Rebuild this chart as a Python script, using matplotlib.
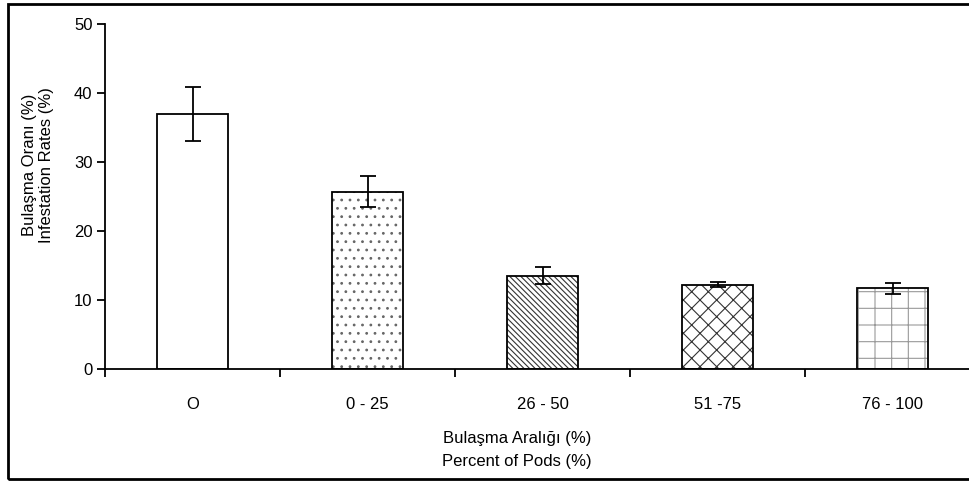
import matplotlib.pyplot as plt
from matplotlib.patches import Rectangle

plt.rcParams['font.family'] = ['Liberation Sans', 'DejaVu Sans']
plt.rcParams['hatch.linewidth'] = 0.8

categories = ['O', '0 - 25', '26 - 50', '51 -75', '76 - 100']
values = [37.0, 25.7, 13.5, 12.2, 11.7]
errors = [3.9, 2.25, 1.25, 0.35, 0.8]
hatches = ['', '..', '\\\\\\\\\\\\', 'xx', '+']
hatch_colors = ['black', '#666666', '#333333', '#333333', '#999999']

fig = plt.figure(figsize=(9.7, 4.82), dpi=100)
ax = fig.add_axes([105 / 970, 1 - 369 / 482, 875.5 / 970, 345 / 482])

x = list(range(len(categories)))
# hatch layer first, then black outline on top
for i in x:
    ax.bar(i, values[i], width=0.405, color='white', edgecolor=hatch_colors[i],
           hatch=hatches[i], linewidth=0, zorder=2)
ax.bar(x, values, width=0.405, color='none', edgecolor='black', linewidth=1.3, zorder=3)
ax.errorbar(x, values, yerr=errors, fmt='none', ecolor='black', elinewidth=1.3,
            capsize=6, capthick=1.3, zorder=4)

ax.set_xlim(-0.5, len(categories) - 0.5)
ax.set_ylim(0, 50)
ax.set_yticks([0, 10, 20, 30, 40, 50])
ax.set_xticks([i + 0.5 for i in range(-1, len(categories))])
ax.set_xticklabels([])
ax.set_xticks(x, minor=True)
ax.set_xticklabels(categories, minor=True)
ax.tick_params(axis='x', which='minor', length=0, pad=20, labelsize=12)
ax.tick_params(axis='x', which='major', direction='out', length=6, width=1.3)
ax.tick_params(axis='y', direction='out', length=6, width=1.3, labelsize=12, pad=3)
for s in ['top', 'right']:
    ax.spines[s].set_visible(False)
for s in ['left', 'bottom']:
    ax.spines[s].set_linewidth(1.3)

fig.text(38 / 970, 1 - 165 / 482, 'Bulaşma Oranı (%)\nInfestation Rates (%)',
         rotation=90, ha='center', va='center', fontsize=12, linespacing=1.1)
fig.text(517 / 970, 1 - 450 / 482, 'Bulaşma Aralığı (%)\nPercent of Pods (%)',
         ha='center', va='center', fontsize=12, linespacing=1.6)

# outer frame, right side falls outside the picture
fig.patches.append(Rectangle((8 / 970, 3 / 482), 1.0, 475 / 482, transform=fig.transFigure,
                             fill=False, edgecolor='black', linewidth=2))

plt.savefig('out.png', dpi=100)
plt.close()
